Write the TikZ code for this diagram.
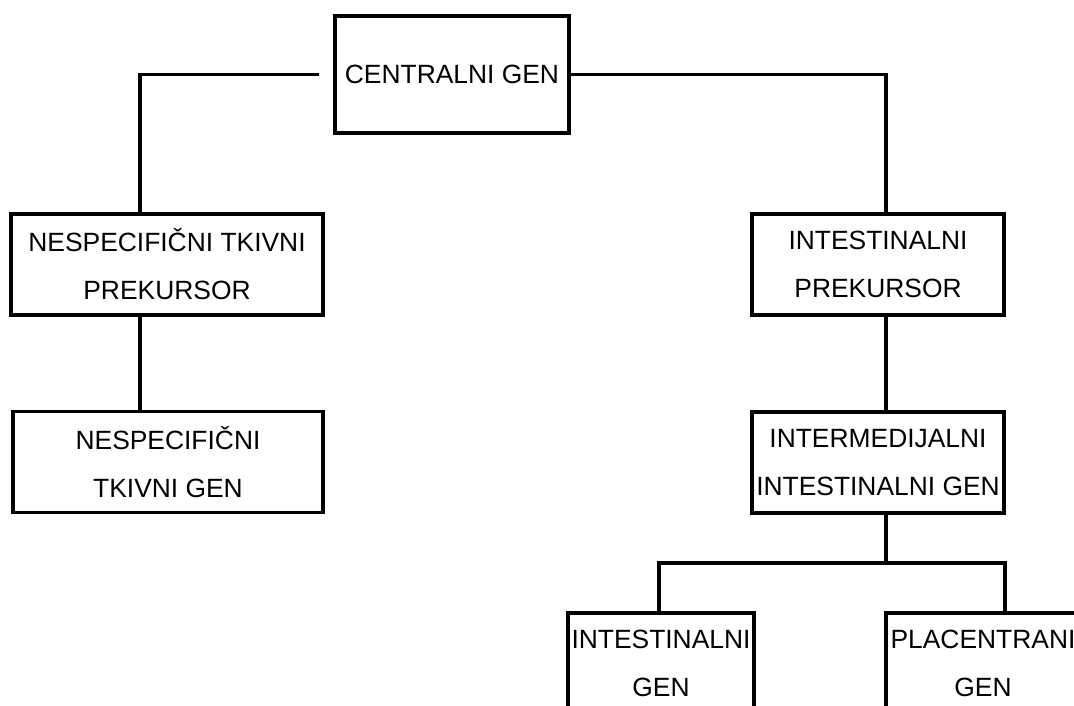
\documentclass[tikz,border=0pt]{standalone}
\usepackage{fontspec}
\setmainfont{Liberation Sans}
\begin{document}
\begin{tikzpicture}[x=1pt, y=-1pt, line width=3.6pt,
	genbox/.style={draw, inner sep=0pt, align=center, minimum height=101pt, font=\fontsize{26.4}{48}\selectfont}]
	\clip (0,0) rectangle (1074,706);
	\node[genbox, minimum width=234pt, minimum height=117pt] (cen) at (452,74.5) {CENTRALNI GEN};
	\node[genbox, minimum width=312pt] (ntp) at (167,264.5) {NESPECIFIČNI TKIVNI\\PREKURSOR};
	\node[genbox, minimum width=310pt] (ntg) at (168,462) {NESPECIFIČNI\\TKIVNI GEN};
	\node[genbox, minimum width=252pt] (ip) at (878,264.5) {INTESTINALNI\\PREKURSOR};
	\node[genbox, minimum width=252pt] (iig) at (878,462.5) {INTERMEDIJALNI\\INTESTINALNI GEN};
	\node[genbox, minimum width=186pt] (ig) at (661,663.5) {INTESTINALNI\\GEN};
	\node[genbox, minimum width=194pt] (pg) at (983,663.5) {PLACENTRANI\\GEN};
	\coordinate (lj) at (140,74.5);
	\coordinate (rj) at (886,74.5);
	\coordinate (bj) at (886,563);
	\coordinate (bl) at (659,563);
	\coordinate (br) at (1005,563);
	\draw[shorten <=14pt] (cen.west) -- (lj) -- (lj |- ntp.north);
	\draw (cen.east) -- (rj) -- (rj |- ip.north);
	\draw (lj |- ntp.south) -- (lj |- ntg.north);
	\draw (rj |- ip.south) -- (rj |- iig.north);
	\draw (rj |- iig.south) -- (bj);
	\draw (bl |- ig.north) -- (bl) -- (br) -- (br |- pg.north);
\end{tikzpicture}
\end{document}
